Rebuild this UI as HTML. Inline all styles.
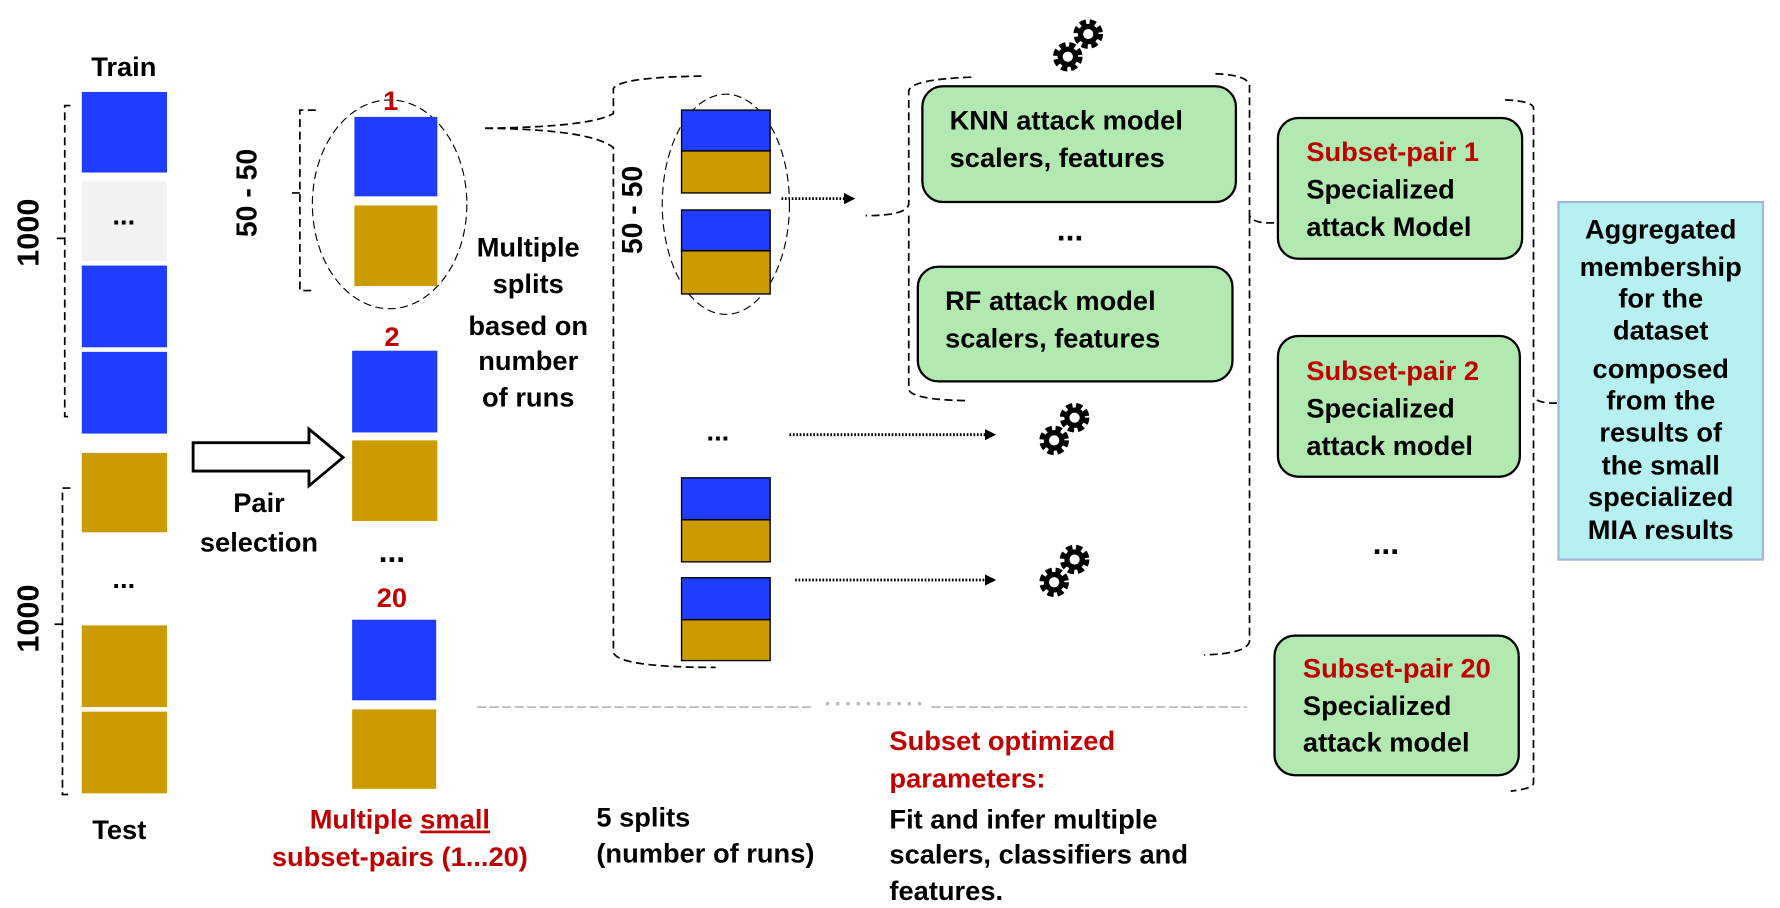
<!DOCTYPE html>
<html><head><meta charset="utf-8"><style>
html,body{margin:0;padding:0;background:#fff;width:1780px;height:908px;overflow:hidden}
svg text{font-family:"Liberation Sans Narrow","Liberation Sans",sans-serif;font-weight:bold}
</style></head><body>
<svg width="1780" height="908" viewBox="0 0 1567 800" preserveAspectRatio="none" xmlns="http://www.w3.org/2000/svg">
<defs>
<marker id="ah" markerWidth="10" markerHeight="10" refX="8" refY="5" orient="auto" markerUnits="userSpaceOnUse"><path d="M0,0 L10,5 L0,10 z" fill="#000"/></marker>
<g id="gear"><circle r="10" fill="none" stroke="#000" stroke-width="6" stroke-dasharray="5 3"/><circle r="9" fill="#000"/><circle r="4.5" fill="#fff"/></g>
<g id="gears"><use href="#gear" x="12" y="-12"/><use href="#gear" x="-6" y="8"/></g>
</defs>
<g font-size="24" fill="#000">
<text x="109" y="67" text-anchor="middle">Train</text>
<rect x="72" y="81" width="75" height="71" fill="#1f3cff"/>
<rect x="72" y="160" width="75" height="70" fill="#f2f2f2"/>
<text x="109" y="198" text-anchor="middle">...</text>
<rect x="72" y="234" width="75" height="72" fill="#1f3cff"/>
<rect x="72" y="310" width="75" height="72" fill="#1f3cff"/>
<rect x="72" y="399" width="75" height="70" fill="#cc9b00"/>
<text x="109" y="518" text-anchor="middle">...</text>
<rect x="72" y="551" width="75" height="72" fill="#cc9b00"/>
<rect x="72" y="627" width="75" height="72" fill="#cc9b00"/>
<text x="105" y="739" text-anchor="middle">Test</text>
<g fill="none" stroke="#000" stroke-width="1.5" stroke-dasharray="7 4">
<path d="M62,93 H57 V367 H62 M57,210 H50"/>
<path d="M62,430 H55 V700 H62 M55,550 H48"/>
<path d="M278,97 H264 V256 H278 M264,170 H255"/>
</g>
<text transform="translate(34,205) rotate(-90)" text-anchor="middle" font-family="Liberation Sans" font-size="27">1000</text>
<text transform="translate(34,545) rotate(-90)" text-anchor="middle" font-family="Liberation Sans" font-size="27">1000</text>
<text transform="translate(226,170) rotate(-90)" text-anchor="middle" font-family="Liberation Sans" font-size="25">50 - 50</text>
<ellipse cx="343" cy="180" rx="68" ry="92" fill="none" stroke="#000" stroke-width="1" stroke-dasharray="7 4"/>
<text x="344" y="97" text-anchor="middle" fill="#c00000">1</text>
<rect x="312" y="103" width="73" height="70" fill="#1f3cff"/>
<rect x="312" y="181" width="73" height="71" fill="#cc9b00"/>
<text x="345" y="305" text-anchor="middle" fill="#c00000">2</text>
<rect x="310" y="309" width="75" height="72" fill="#1f3cff"/>
<rect x="310" y="388" width="75" height="71" fill="#cc9b00"/>
<text x="345" y="495" text-anchor="middle" font-size="28">...</text>
<text x="345" y="535" text-anchor="middle" fill="#c00000">20</text>
<rect x="310" y="546" width="74" height="71" fill="#1f3cff"/>
<rect x="310" y="625" width="74" height="70" fill="#cc9b00"/>
<path d="M170,390 H272 V378 L302,403 L272,428 V415 H170 Z" fill="#fff" stroke="#000" stroke-width="2.5"/>
<text x="228" y="451" text-anchor="middle">Pair</text>
<text x="228" y="486" text-anchor="middle">selection</text>
<g text-anchor="middle"><text x="465" y="226">Multiple</text><text x="465" y="258">splits</text><text x="465" y="295">based on</text><text x="465" y="326">number</text><text x="465" y="358">of runs</text></g>
<g fill="none" stroke="#000" stroke-width="1.5" stroke-dasharray="7 4">
<path d="M427,113 Q520,112 540,100 V78 Q545,68 620,67"/>
<path d="M427,113 Q520,114 540,130 V575 Q545,588 630,588"/>
</g>
<text transform="translate(565,185) rotate(-90)" text-anchor="middle" font-family="Liberation Sans" font-size="25">50 - 50</text>
<ellipse cx="639" cy="180" rx="56" ry="97" fill="none" stroke="#000" stroke-width="1" stroke-dasharray="7 4"/>
<g stroke="#000" stroke-width="1.2">
<rect x="600" y="97" width="78" height="36" fill="#1f3cff"/><rect x="600" y="133" width="78" height="37" fill="#cc9b00"/>
<rect x="600" y="185" width="78" height="36" fill="#1f3cff"/><rect x="600" y="221" width="78" height="38" fill="#cc9b00"/>
<rect x="600" y="421" width="78" height="37" fill="#1f3cff"/><rect x="600" y="458" width="78" height="37" fill="#cc9b00"/>
<rect x="600" y="509" width="78" height="37" fill="#1f3cff"/><rect x="600" y="546" width="78" height="36" fill="#cc9b00"/>
</g>
<text x="632" y="388" text-anchor="middle">...</text>
<g stroke="#000" stroke-width="2.5" stroke-dasharray="1.5 1.5" marker-end="url(#ah)">
<line x1="688" y1="175" x2="751" y2="175"/>
<line x1="695" y1="383" x2="875" y2="383"/>
<line x1="700" y1="511" x2="875" y2="511"/>
</g>
<use href="#gears" x="946" y="42"/>
<use href="#gears" x="934" y="380"/>
<use href="#gears" x="934" y="505"/>
<g fill="none" stroke="#000" stroke-width="1.5" stroke-dasharray="7 4">
<path d="M855,68 Q802,70 800,80 V180 Q798,190 762,190"/>
<path d="M800,190 V343 Q802,352 850,353"/>
<path d="M1070,65 Q1098,66 1100,75 V190 Q1104,198 1125,196"/>
<path d="M1100,190 V565 Q1098,576 1060,577"/>
<path d="M1325,88 Q1349,89 1350,95 V350 Q1355,356 1372,355"/>
<path d="M1350,355 V690 Q1349,695 1330,697"/>
</g>
<g fill="#b1e9b1" stroke="#000" stroke-width="2">
<rect x="812" y="76" width="276" height="102" rx="18"/>
<rect x="808" y="235" width="277" height="101" rx="18"/>
<rect x="1125" y="104" width="215" height="124" rx="18"/>
<rect x="1125" y="296" width="213" height="124" rx="18"/>
<rect x="1122" y="560" width="215" height="123" rx="18"/>
</g>
<text x="836" y="114">KNN attack model</text><text x="836" y="147">scalers, features</text>
<text x="942" y="212" text-anchor="middle" font-size="28">...</text>
<text x="832" y="273">RF attack model</text><text x="832" y="306">scalers, features</text>
<text x="1150" y="142" fill="#c00000">Subset-pair 1</text><text x="1150" y="175">Specialized</text><text x="1150" y="208">attack Model</text>
<text x="1150" y="335" fill="#c00000">Subset-pair 2</text><text x="1150" y="368">Specialized</text><text x="1150" y="401">attack model</text>
<text x="1220" y="488" text-anchor="middle" font-size="28">...</text>
<text x="1147" y="597" fill="#c00000">Subset-pair 20</text><text x="1147" y="630">Specialized</text><text x="1147" y="662">attack model</text>
<rect x="1372" y="178" width="180" height="315" fill="#b6f0f0" stroke="#a4b6dc" stroke-width="2"/>
<g text-anchor="middle"><text x="1462" y="210">Aggregated</text><text x="1462" y="243">membership</text><text x="1462" y="271">for the</text><text x="1462" y="299">dataset</text><text x="1462" y="333">composed</text><text x="1462" y="361">from the</text><text x="1462" y="389">results of</text><text x="1462" y="418">the small</text><text x="1462" y="446">specialized</text><text x="1462" y="475">MIA results</text></g>
<line x1="420" y1="623" x2="717" y2="623" stroke="#bbb" stroke-width="1.5" stroke-dasharray="8 3"/>
<line x1="727" y1="620" x2="815" y2="620" stroke="#bbb" stroke-width="3" stroke-dasharray="3 6"/>
<line x1="820" y1="623" x2="1098" y2="623" stroke="#bbb" stroke-width="1.5" stroke-dasharray="8 3"/>
<g text-anchor="middle" fill="#c00000"><text x="352" y="730">Multiple <tspan text-decoration="underline">small</tspan></text><text x="352" y="763">subset-pairs (1...20)</text></g>
<text x="525" y="728">5 splits</text><text x="525" y="760">(number of runs)</text>
<text x="783" y="661" fill="#c00000">Subset optimized</text><text x="783" y="694" fill="#c00000">parameters:</text>
<text x="783" y="730">Fit and infer multiple</text><text x="783" y="761">scalers, classifiers and</text><text x="783" y="793">features.</text>
</g>
</svg>
</body></html>
